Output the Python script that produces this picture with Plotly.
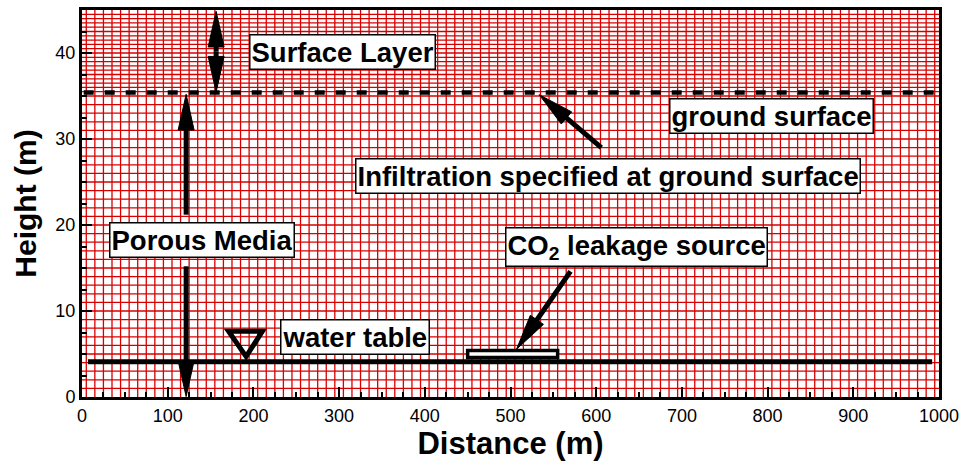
import numpy as np
import plotly.graph_objects as go

# ---- figure geometry -------------------------------------------------------
FIG_W, FIG_H = 966, 462
MARGIN = dict(l=82, r=24, t=7, b=65)
X_RANGE = [0, 1000]
Y_RANGE = [0, 45]

# ---- computational mesh ----------------------------------------------------
mesh_x = np.arange(5, 1000, 10)                  # column faces, 10 m cells
mesh_y_subsurface = np.arange(1, 36, 1.0)        # 1 m layers in porous media
mesh_y_surface_layer = np.arange(35.5, 45, 0.5)  # 0.5 m layers above ground

# ---- features ---------------------------------------------------------------
ground_surface_y = 35.4
ground_surface_x = [2, 998]
water_table_y = 4.1
water_table_x = [7, 992]
water_symbol = dict(x=[171, 210.5, 191.5], y=[7.65, 7.65, 4.7])
co2_source = dict(x0=450, x1=555, y0=4.6, y1=5.4)

# arrows: (tail x, tail y, tip x, tip y)
arrows = [
    (156.5, 40.2, 156.5, 44.85),   # surface layer, upward head
    (156.5, 40.2, 156.5, 35.45),   # surface layer, downward head
    (121.5, 21.2, 121.5, 35.2),    # porous media, upper part
    (121.5, 15.2, 121.5, 0.05),    # porous media, lower part
    (606.0, 29.0, 533.5, 35.15),   # infiltration
    (570.0, 14.6, 507.0, 5.55),    # CO2 leakage source
]

labels = [
    ("Surface Layer", 304.5, 40.1),
    ("ground surface", 804.5, 32.7),
    ("Infiltration specified at ground surface", 613.5, 25.75),
    ("Porous Media", 139.5, 18.2),
    ("CO<sub>2</sub> leakage source", 646.5, 17.5),
    ("water table", 318.5, 7.0),
]

FONT = "Liberation Sans, Arial, Helvetica, sans-serif"
RED = "rgb(214,0,0)"

plot_w = FIG_W - MARGIN["l"] - MARGIN["r"]
plot_h = FIG_H - MARGIN["t"] - MARGIN["b"]
sx = plot_w / (X_RANGE[1] - X_RANGE[0])   # px per metre, horizontal
sy = plot_h / (Y_RANGE[1] - Y_RANGE[0])   # px per metre, vertical

fig = go.Figure()

# mesh lines
vx, vy = [], []
for x in mesh_x:
    vx += [x, x, None]
    vy += [Y_RANGE[0], Y_RANGE[1], None]
hx, hy = [], []
for y in np.concatenate([mesh_y_subsurface, mesh_y_surface_layer]):
    hx += [X_RANGE[0], X_RANGE[1], None]
    hy += [y, y, None]
fig.add_trace(go.Scatter(x=vx, y=vy, mode="lines", line=dict(color=RED, width=1.3),
                         hoverinfo="skip", showlegend=False))
fig.add_trace(go.Scatter(x=hx, y=hy, mode="lines", line=dict(color=RED, width=1.3),
                         hoverinfo="skip", showlegend=False))

# water table and ground surface
fig.add_trace(go.Scatter(x=water_table_x, y=[water_table_y] * 2, mode="lines",
                         line=dict(color="black", width=5), showlegend=False))
fig.add_trace(go.Scatter(x=ground_surface_x, y=[ground_surface_y] * 2, mode="lines",
                         line=dict(color="black", width=4.5, dash="10px,11px"),
                         showlegend=False))


def add_arrow(x0, y0, x1, y1, head_len=36, head_half=8, shaft=5):
    """Shaft from tail to the head base plus a filled narrow triangular head."""
    px0, py0, px1, py1 = x0 * sx, y0 * sy, x1 * sx, y1 * sy
    d = np.hypot(px1 - px0, py1 - py0)
    ux, uy = (px1 - px0) / d, (py1 - py0) / d
    nx, ny = -uy, ux
    bx, by = px1 - head_len * ux, py1 - head_len * uy
    fig.add_trace(go.Scatter(x=[x0, (bx + 2 * ux) / sx], y=[y0, (by + 2 * uy) / sy],
                             mode="lines", line=dict(color="black", width=shaft),
                             showlegend=False, hoverinfo="skip"))
    tri_x = [x1, (bx + head_half * nx) / sx, (bx - head_half * nx) / sx, x1]
    tri_y = [y1, (by + head_half * ny) / sy, (by - head_half * ny) / sy, y1]
    fig.add_trace(go.Scatter(x=tri_x, y=tri_y, mode="lines", fill="toself",
                             fillcolor="black", line=dict(color="black", width=1),
                             showlegend=False, hoverinfo="skip"))


for x0, y0, x1, y1 in arrows:
    add_arrow(x0, y0, x1, y1)

# water-table symbol
wx, wy = water_symbol["x"], water_symbol["y"]
fig.add_shape(type="path",
              path=f"M {wx[0]} {wy[0]} L {wx[1]} {wy[1]} L {wx[2]} {wy[2]} Z",
              line=dict(color="black", width=5), fillcolor="rgba(0,0,0,0)")

# CO2 source block
fig.add_shape(type="rect", **co2_source, line=dict(color="black", width=3.5),
              fillcolor="white")

for text, x, y in labels:
    fig.add_annotation(x=x, y=y, text=text, showarrow=False,
                       font=dict(family=FONT, size=27.5, color="black", weight="bold"),
                       bgcolor="white", bordercolor="black", borderwidth=1.5,
                       borderpad=1)

axis_common = dict(showgrid=False, zeroline=False, showline=True, linecolor="black",
                   linewidth=3, mirror=True, ticks="inside", ticklen=10, tickwidth=2,
                   tickcolor="black",
                   tickfont=dict(family=FONT, size=18, color="black"))

fig.update_xaxes(range=X_RANGE, tickmode="linear", tick0=0, dtick=100,
                 minor=dict(ticks="inside", dtick=25, ticklen=5, tickwidth=1.5,
                            tickcolor="black"),
                 title=dict(text="Distance (m)", standoff=1,
                            font=dict(family=FONT, size=31, color="black", weight="bold")),
                 **axis_common)
fig.update_yaxes(range=Y_RANGE, tickmode="linear", tick0=0, dtick=10,
                 minor=dict(ticks="inside", dtick=2.5, ticklen=5, tickwidth=1.5,
                            tickcolor="black"),
                 title=dict(text="Height (m)", standoff=10,
                            font=dict(family=FONT, size=30, color="black", weight="bold")),
                 **axis_common)

fig.update_layout(width=FIG_W, height=FIG_H, margin=MARGIN, plot_bgcolor="white",
                  paper_bgcolor="white", showlegend=False)

fig.write_html("out.html")
